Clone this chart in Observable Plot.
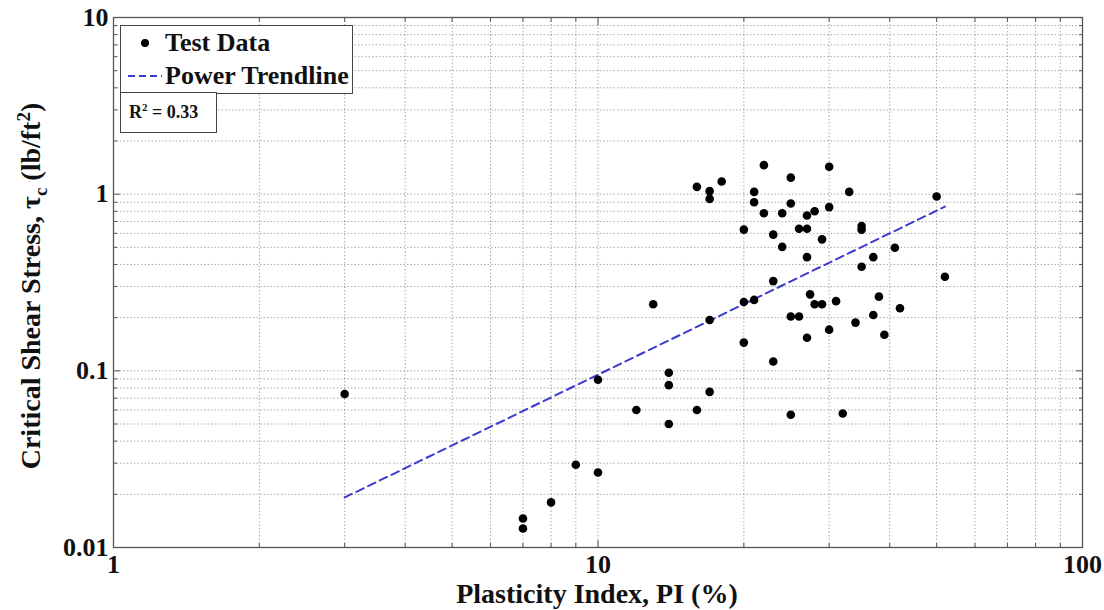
<!DOCTYPE html>
<html>
<head>
<meta charset="utf-8">
<script src="https://cdn.jsdelivr.net/npm/d3@7"></script>
<script src="https://cdn.jsdelivr.net/npm/@observablehq/plot@0.6"></script>
<style>
  body { margin: 0; background: #fff; }
  #wrap { position: relative; width: 1104px; height: 610px; font-family: "Liberation Serif", "DejaVu Serif", serif; font-weight: bold; color: #111; }
  #wrap div { font-family: "Liberation Serif", "DejaVu Serif", serif; font-weight: bold; }
  .lbl { position: absolute; white-space: nowrap; font-size: 28px; line-height: 28px; }
  .box { position: absolute; border: 1.5px solid #444; background: #fff; box-sizing: border-box; }
  .t { position: absolute; white-space: nowrap; }
</style>
</head>
<body>
<div id="wrap"></div>
<script>
// Test data: Plasticity Index (%) and critical shear stress (lb/ft^2)
const plasticityIndex = [
  3, 7, 7, 8, 9, 10, 10, 14, 14, 12, 16, 14,
  22, 30, 25, 16, 18, 17, 17, 21, 21, 33, 50,
  22, 25, 24, 27, 28, 30, 20, 23, 26, 27, 35, 35,
  29, 24, 41, 27, 37, 35, 52, 23, 27.4, 38, 28, 29, 31,
  20, 21, 42, 13, 17, 25, 26, 37, 34, 30, 39, 27, 20, 23,
  17, 25, 32
];
const shearStress = [
  0.074, 0.0146, 0.0128, 0.018, 0.0294, 0.0266, 0.089, 0.0975, 0.083, 0.060, 0.060, 0.050,
  1.46, 1.43, 1.24, 1.10, 1.18, 1.04, 0.94, 1.03, 0.90, 1.03, 0.97,
  0.78, 0.886, 0.78, 0.758, 0.80, 0.845, 0.63, 0.59, 0.637, 0.637, 0.66, 0.63,
  0.555, 0.503, 0.497, 0.44, 0.44, 0.388, 0.341, 0.322, 0.271, 0.263, 0.238, 0.238, 0.248,
  0.245, 0.252, 0.226, 0.238, 0.194, 0.203, 0.203, 0.207, 0.1875, 0.171, 0.160, 0.154, 0.1445, 0.113,
  0.076, 0.0564, 0.0574
];
// Power trendline endpoints
const trendPI = [3, 52];
const trendTau = [0.0192, 0.85];

// Axis ticks
const xMajor = [1, 10, 100];
const yMajor = [0.01, 0.1, 1, 10];
const xMinor = [2,3,4,5,6,7,8,9,20,30,40,50,60,70,80,90];
const yMinor = [0.02,0.03,0.04,0.05,0.06,0.07,0.08,0.09,0.2,0.3,0.4,0.5,0.6,0.7,0.8,0.9,2,3,4,5,6,7,8,9];
const xAll = [...xMajor, ...xMinor];
const yAll = [...yMajor, ...yMinor];

const points = plasticityIndex.map((pi, i) => ({pi, tau: shearStress[i]}));
const trend = trendPI.map((pi, i) => ({pi, tau: trendTau[i]}));

const gridStyle = {stroke: "#666", strokeOpacity: 0.55, strokeDasharray: "1.5,2", strokeWidth: 1};
const font = {fontFamily: "Liberation Serif", fontWeight: "bold", fontSize: 26, fill: "#111"};

const chart = Plot.plot({
  width: 1104,
  height: 610,
  marginLeft: 113,
  marginRight: 22,
  marginTop: 17,
  marginBottom: 63,
  style: {fontFamily: "Liberation Serif", background: "#fff"},
  x: {type: "log", domain: [1, 100], label: null},
  y: {type: "log", domain: [0.01, 10], label: null},
  marks: [
    Plot.gridX(xAll, gridStyle),
    Plot.gridY(yAll, gridStyle),
    Plot.line(trend, {x: "pi", y: "tau", stroke: "#3a3ad0", strokeWidth: 2, strokeDasharray: "8,5"}),
    Plot.dot(points, {x: "pi", y: "tau", r: 4.3, fill: "#000", stroke: "none"}),
    Plot.frame({stroke: "#555", strokeWidth: 1.3}),
    Plot.axisX(xMinor, {anchor: "bottom", tickSize: -4, tickFormat: () => "", stroke: "#555", label: null}),
    Plot.axisX(xMinor, {anchor: "top", tickSize: -4, tickFormat: () => "", stroke: "#555", label: null}),
    Plot.axisY(yMinor, {anchor: "left", tickSize: -4, tickFormat: () => "", stroke: "#555", label: null}),
    Plot.axisY(yMinor, {anchor: "right", tickSize: -4, tickFormat: () => "", stroke: "#555", label: null}),
    Plot.axisX(xMajor, {anchor: "top", tickSize: -7, tickFormat: () => "", stroke: "#555", label: null}),
    Plot.axisY(yMajor, {anchor: "right", tickSize: -7, tickFormat: () => "", stroke: "#555", label: null}),
    Plot.axisX(xMajor, {anchor: "bottom", tickSize: -7, tickPadding: 14, tickFormat: d => String(d), stroke: "#555", label: null, ...font}),
    Plot.axisY(yMajor, {anchor: "left", tickSize: -7, tickPadding: 12, tickFormat: d => String(d), stroke: "#555", label: null, ...font})
  ]
});

const wrap = document.getElementById("wrap");
wrap.appendChild(chart);

// Axis labels
const xl = document.createElement("div");
xl.className = "lbl";
xl.innerHTML = "Plasticity Index, PI (%)";
xl.style.left = "597px"; xl.style.top = "580px"; xl.style.transform = "translateX(-50%)";
wrap.appendChild(xl);

const yl = document.createElement("div");
yl.className = "lbl";
yl.innerHTML = "Critical Shear Stress, &tau;<sub style='font-size:19px;line-height:0'>c</sub> (lb/ft<sup style='font-size:19px;line-height:0'>2</sup>)";
yl.style.left = "31px"; yl.style.top = "286px"; yl.style.transform = "translate(-50%,-50%) rotate(-90deg)";
wrap.appendChild(yl);

// Legend
const leg = document.createElement("div");
leg.className = "box";
leg.style.cssText += "left:120px;top:25px;width:233px;height:69px;font-size:26px;line-height:26px;";
leg.innerHTML =
  "<div style='position:absolute;left:20px;top:13px;width:8px;height:8px;border-radius:50%;background:#000'></div>" +
  "<div class='t' style='left:44px;top:4px'>Test Data</div>" +
  "<svg style='position:absolute;left:7px;top:47px' width='34' height='6'><line x1='0' y1='3' x2='34' y2='3' stroke='#3a3ad0' stroke-width='2' stroke-dasharray='7,4'/></svg>" +
  "<div class='t' style='left:44px;top:37px'>Power Trendline</div>";
wrap.appendChild(leg);

const r2 = document.createElement("div");
r2.className = "box";
r2.style.cssText += "left:120px;top:92px;width:97px;height:41px;font-size:18px;line-height:18px;";
r2.innerHTML = "<div class='t' style='left:8px;top:10px'>R<sup style='font-size:11px;line-height:0'>2</sup> = 0.33</div>";
wrap.appendChild(r2);
</script>
</body>
</html>
